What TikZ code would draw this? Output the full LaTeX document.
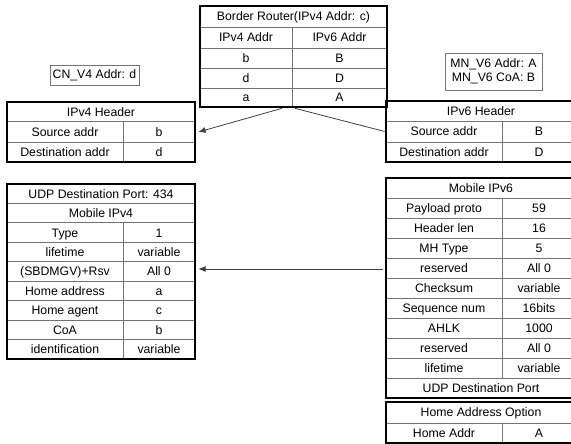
\documentclass[tikz,border=0pt]{standalone}
\usepackage{fontspec}
\setmainfont{Liberation Sans}
\usetikzlibrary{arrows.meta,calc,fit}
\begin{document}
\begin{tikzpicture}[x=0.75pt,y=-0.75pt,
  frame/.style={draw=black,line width=2pt,inner sep=0pt},
  sep/.style={draw=black!55,line width=0.6pt},
  cell/.style={font=\fontsize{9.2}{11}\selectfont,inner sep=0pt,anchor=center,text height=6.6pt,text depth=0pt},
  note/.style={draw=black!55,line width=0.6pt,font=\fontsize{9.2}{10.5}\selectfont,inner sep=0pt,align=center},
  conn/.style={draw=black!75,line width=0.6pt},
  tip/.style={-{Latex[length=5.5pt,width=4.5pt]}}]
\useasboundingbox (0,0) rectangle (571,443);
\clip (0,0) rectangle (571,443);
\fill[white] (0,0) rectangle (571,443);

% ---------- Border Router ----------
\draw[sep] (200,27) -- (387,27) (200,48) -- (387,48) (200,68) -- (387,68) (200,88) -- (387,88)
           (292,27) -- (292,107);
\node[frame,fit={(200,6) (387,107)}] (br) {};
\node[cell] (brt) at (293.5,16.5) {Border Router(IPv4 Addr: c)};
\node[cell] (br1a) at (246,37.5) {IPv4 Addr}; \node[cell] (br1b) at (339.5,37.5) {IPv6 Addr};
\node[cell] (br2a) at (246,58) {b};         \node[cell] (br2b) at (339.5,58) {B};
\node[cell] (br3a) at (246,78) {d};         \node[cell] (br3b) at (339.5,78) {D};
\node[cell] (br4a) at (246,97.5) {a};       \node[cell] (br4b) at (339.5,97.5) {A};

% ---------- notes ----------
\node[note,minimum width=66.75pt,minimum height=15pt] (cn) at (94.5,75) {CN\_V4 Addr: d};
\node[note,minimum width=72.75pt,minimum height=27.75pt] (mn) at (493.5,71.5) {MN\_V6 Addr: A\\MN\_V6 CoA: B};

% ---------- IPv4 Header ----------
\draw[sep] (7,121.5) -- (195,121.5) (7,142) -- (195,142) (123,121.5) -- (123,162);
\node[frame,fit={(7,102) (195,162)}] (v4h) {};
\node[cell] (v4t) at (101,112) {IPv4 Header};
\node[cell] (v4s) at (65,132) {Source addr};      \node[cell] (v4sv) at (159,132) {b};
\node[cell] (v4d) at (65,152) {Destination addr}; \node[cell] (v4dv) at (159,152) {d};

% ---------- IPv6 Header ----------
\draw[sep] (386,121) -- (576,121) (386,142) -- (576,142) (502,121) -- (502,162);
\node[frame,fit={(386,101) (576,162)}] (v6h) {};
\node[cell] (v6t) at (481,111) {IPv6 Header};
\node[cell] (v6s) at (444,131.5) {Source addr};      \node[cell] (v6sv) at (539,131.5) {B};
\node[cell] (v6d) at (444,152) {Destination addr}; \node[cell] (v6dv) at (539,152) {D};

% ---------- Mobile IPv4 (left) ----------
\foreach \k in {1,...,8} {\draw[sep] (7,184+19.444*\k) -- (195,184+19.444*\k);}
\draw[sep] (123,222.9) -- (123,359);
\node[frame,fit={(7,184) (195,359)}] (m4) {};
\node[cell] (m4t) at (101,193.7) {UDP Destination Port: 434};
\node[cell] (m4m) at (101,213.2) {Mobile IPv4};
\node[cell] (m4a1) at (65,232.6) {Type};          \node[cell] (m4b1) at (159,232.6) {1};
\node[cell] (m4a2) at (65,252.1) {lifetime};      \node[cell] (m4b2) at (159,252.1) {variable};
\node[cell] (m4a3) at (65,271.5) {(SBDMGV)+Rsv};  \node[cell] (m4b3) at (159,271.5) {All 0};
\node[cell] (m4a4) at (65,290.9) {Home address};  \node[cell] (m4b4) at (159,290.9) {a};
\node[cell] (m4a5) at (65,310.4) {Home agent};    \node[cell] (m4b5) at (159,310.4) {c};
\node[cell] (m4a6) at (65,329.8) {CoA};           \node[cell] (m4b6) at (159,329.8) {b};
\node[cell] (m4a7) at (65,349.3) {identification};\node[cell] (m4b7) at (159,349.3) {variable};

% ---------- Mobile IPv6 (right) ----------
\foreach \k in {1,...,10} {\draw[sep] (386,178+20*\k) -- (576,178+20*\k);}
\draw[sep] (502,198) -- (502,378);
\node[frame,fit={(386,178) (576,398)}] (m6) {};
\node[cell] (m6t) at (481,188) {Mobile IPv6};
\node[cell] (m6a1) at (444,208) {Payload proto}; \node[cell] (m6b1) at (539,208) {59};
\node[cell] (m6a2) at (444,228) {Header len};    \node[cell] (m6b2) at (539,228) {16};
\node[cell] (m6a3) at (444,248) {MH Type};       \node[cell] (m6b3) at (539,248) {5};
\node[cell] (m6a4) at (444,268) {reserved};      \node[cell] (m6b4) at (539,268) {All 0};
\node[cell] (m6a5) at (444,288) {Checksum};      \node[cell] (m6b5) at (539,288) {variable};
\node[cell] (m6a6) at (444,308) {Sequence num};  \node[cell] (m6b6) at (539,308) {16bits};
\node[cell] (m6a7) at (444,328) {AHLK};          \node[cell] (m6b7) at (539,328) {1000};
\node[cell] (m6a8) at (444,348) {reserved};      \node[cell] (m6b8) at (539,348) {All 0};
\node[cell] (m6a9) at (444,368) {lifetime};      \node[cell] (m6b9) at (539,368) {variable};
\node[cell] (m6u) at (481,388) {UDP Destination Port};

% ---------- Home Address Option ----------
\draw[sep] (386,423) -- (576,423) (502,423) -- (502,443);
\node[frame,fit={(386,402) (576,443)}] (ho) {};
\node[cell] (hot) at (481,412.5) {Home Address Option};
\node[cell] (hoa) at (444,433) {Home Addr}; \node[cell] (hob) at (539,433) {A};

% ---------- connectors ----------
\draw[conn,tip] ($(br.south)+(-11.5,0)$) -- ([xshift=1.5]v4h.east);
\draw[conn] ($(br.south)+(1.5,0)$) -- (v6h.west);
\coordinate (rsv) at (383,269);
\draw[conn,tip] (rsv) -- ([xshift=1.5]m4.east |- rsv);
\end{tikzpicture}
\end{document}
